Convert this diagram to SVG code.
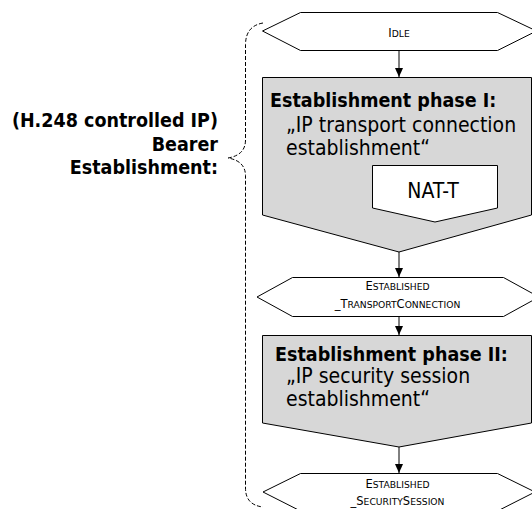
<svg xmlns="http://www.w3.org/2000/svg" width="532" height="509" viewBox="0 0 532 509">
<style>
.box{fill:#d7d7d7;stroke:#000;stroke-width:1}
.st{fill:#fff;stroke:#000;stroke-width:1}
.t{font-family:"DejaVu Sans Condensed","DejaVu Sans",sans-serif;font-stretch:condensed;font-size:21px;fill:#000}
.b{font-weight:bold;font-size:19.5px}
.sc{font-family:"DejaVu Sans",Verdana,sans-serif;font-size:11.5px;fill:#000;text-anchor:middle}
.sm{font-size:9.2px}
.c{fill:none;stroke:#000;stroke-width:1}
.br{fill:none;stroke:#000;stroke-width:1;stroke-dasharray:4,2}
</style>
<defs>
<marker id="ah" markerWidth="10" markerHeight="10" refX="9" refY="5" orient="auto" markerUnits="userSpaceOnUse">
<path d="M0,1 L9,5 L0,9 Z" fill="#000"/>
</marker>
</defs>
<g id="brace">
<path class="br" d="M263,23 Q245.5,26 245.5,45 L245.5,140 Q245.5,155 228,158 Q245.5,161 245.5,176 L245.5,488 Q245.5,505 263,507"/>
</g>
<g id="label">
<text class="t b" x="218" y="127" text-anchor="end">(H.248 controlled IP)</text>
<text class="t b" x="218" y="151" text-anchor="end">Bearer</text>
<text class="t b" x="218" y="174" text-anchor="end">Establishment:</text>
</g>
<g id="idle">
<polygon class="st" points="262.5,31 300.5,12.5 497.5,12.5 536.5,31 497.5,50.5 300.5,50.5"/>
<text class="sc" x="399" y="37">I<tspan class="sm">DLE</tspan></text>
</g>
<g id="phase1">
<polygon class="box" points="262.5,77.5 531.5,77.5 531.5,215 399,252 262.5,215"/>
<text class="t b" x="270" y="107">Establishment phase I:</text>
<text class="t" x="286" y="132">„IP transport connection</text>
<text class="t" x="286" y="155">establishment“</text>
</g>
<g id="natt">
<polygon class="st" points="372.5,165.5 497.5,165.5 497.5,208 435,222 372.5,208"/>
<text class="t" x="433" y="198" text-anchor="middle">NAT-T</text>
</g>
<g id="estTransport">
<polygon class="st" points="257,297 292.5,277.5 503.5,277.5 539,297 503.5,316.5 292.5,316.5"/>
<text class="sc" x="397.5" y="290">E<tspan class="sm">STABLISHED</tspan></text>
<text class="sc" x="397.5" y="308">_T<tspan class="sm">RANSPORT</tspan>C<tspan class="sm">ONNECTION</tspan></text>
</g>
<g id="phase2">
<polygon class="box" points="262.5,335.5 531.5,335.5 531.5,423 399,447 262.5,423"/>
<text class="t b" x="275" y="361">Establishment phase II:</text>
<text class="t" x="286" y="383">„IP security session</text>
<text class="t" x="286" y="406">establishment“</text>
</g>
<g id="estSecurity">
<polygon class="st" points="263,492 300.5,473.5 497.5,473.5 535,492 497.5,511 300.5,511"/>
<text class="sc" x="397.5" y="488">E<tspan class="sm">STABLISHED</tspan></text>
<text class="sc" x="397.5" y="505">_S<tspan class="sm">ECURITY</tspan>S<tspan class="sm">ESSION</tspan></text>
</g>
<g id="connectors">
<line class="c" x1="399" y1="50.5" x2="399" y2="77" marker-end="url(#ah)"/>
<line class="c" x1="399" y1="252" x2="399" y2="277" marker-end="url(#ah)"/>
<line class="c" x1="399" y1="316.5" x2="399" y2="335" marker-end="url(#ah)"/>
<line class="c" x1="399" y1="447" x2="399" y2="473" marker-end="url(#ah)"/>
</g>
</svg>
